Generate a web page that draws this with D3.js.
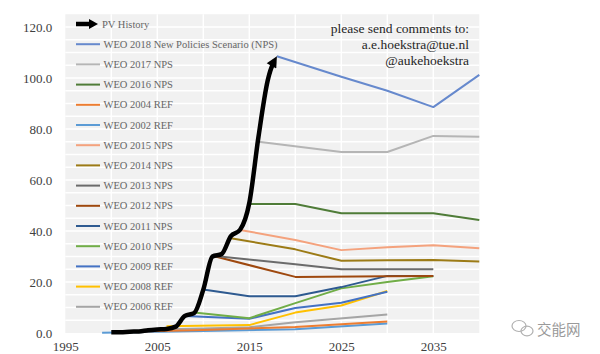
<!DOCTYPE html>
<html>
<head>
<meta charset="utf-8">
<script src="https://cdn.jsdelivr.net/npm/d3@7/dist/d3.min.js"></script>
<style>
  html, body { margin: 0; padding: 0; background: #fff; }
  svg { display: block; }
</style>
</head>
<body>
<svg id="chart" width="600" height="354"></svg>
<script>
// ---------------- DATA ----------------
const pvYears  = [2000,2001,2002,2003,2004,2005,2006,2007,2008,2009,2010,2011,2012,2013,2014,2015,2016,2017,2018];
const pvValues = [0.3,0.3,0.5,0.6,1.1,1.4,1.6,2.5,6.7,7.8,17,30,31,38,40.5,51,77,99,108.5];

const seriesNames = [
  "WEO 2018 New Policies Scenario (NPS)", "WEO 2017 NPS", "WEO 2016 NPS", "WEO 2004 REF",
  "WEO 2002 REF", "WEO 2015 NPS", "WEO 2014 NPS", "WEO 2013 NPS", "WEO 2012 NPS",
  "WEO 2011 NPS", "WEO 2010 NPS", "WEO 2009 REF", "WEO 2008 REF", "WEO 2006 REF"
];
const seriesYears = [
  [2018, 2025, 2030, 2035, 2040],            // 2018 NPS
  [2016, 2025, 2030, 2035, 2040],            // 2017 NPS
  [2015, 2020, 2025, 2030, 2035, 2040],      // 2016 NPS
  [2002, 2010, 2020, 2030],                  // 2004 REF
  [1999, 2010, 2020, 2030],                  // 2002 REF
  [2014, 2020, 2025, 2030, 2035, 2040],      // 2015 NPS
  [2013, 2020, 2025, 2030, 2035, 2040],      // 2014 NPS
  [2011, 2020, 2025, 2030, 2035],            // 2013 NPS
  [2011, 2020, 2030, 2035],                  // 2012 NPS
  [2010, 2015, 2020, 2025, 2030, 2035],      // 2011 NPS
  [2009, 2015, 2020, 2025, 2030, 2035],      // 2010 NPS
  [2008, 2015, 2020, 2025, 2030],            // 2009 REF
  [2006, 2015, 2020, 2025, 2030],            // 2008 REF
  [2005, 2010, 2015, 2020, 2030]             // 2006 REF
];
const seriesValues = [
  [108.5, 100.5, 95, 88.6, 101.2],
  [75, 71, 71, 77.3, 77],
  [50.6, 50.6, 47, 47, 47, 44.3],
  [0.5, 1.2, 2.4, 4.5],
  [0.1, 0.8, 1.5, 3.7],
  [40.4, 36.5, 32.5, 33.6, 34.4, 33.2],
  [37.2, 32.8, 28.3, 28.5, 28.6, 28],
  [30.3, 27, 25, 25, 25],
  [30.3, 22, 22.3, 22.4],
  [17.1, 14.4, 14.4, 18, 22.4, 22.4],
  [8, 5.8, 11.7, 17.5, 20, 22.3],
  [6.7, 5.6, 9.8, 11.9, 16.2],
  [2.6, 3.1, 8, 10.8, 16.5],
  [1.4, 1.8, 2.3, 4.2, 7.3]
];
const seriesColors = [
  "#6689cd", "#b5b5b5", "#4f7c38", "#ed7d31", "#5b9bd5", "#f4a27d", "#9c7b16",
  "#6b6b6b", "#9e480e", "#2e5a90", "#70ad47", "#4472c4", "#ffc000", "#a5a5a5"
];

const yTicks = [0, 20, 40, 60, 80, 100, 120];
const xTicks = [1995, 2005, 2015, 2025, 2035];
const noteLines = ["please send comments to:", "a.e.hoekstra@tue.nl", "@aukehoekstra"];
const pvLabel = "PV History";
const watermark = "交能网";

// ---------------- CHART ----------------
const svg = d3.select("#chart");
const serif = "'Liberation Serif', 'Times New Roman', serif";

const x = d3.scaleLinear().domain([1995, 2040]).range([65.3, 479.3]);
const y = d3.scaleLinear().domain([0, 125]).range([333, 14.25]);

// background
svg.append("rect")
  .attr("x", x(1995)).attr("y", y(125))
  .attr("width", x(2040) - x(1995)).attr("height", y(0) - y(125))
  .attr("fill", "#f1f1f1");

// grid
const grid = svg.append("g").attr("stroke", "#ffffff").attr("stroke-width", 1.4);
grid.selectAll("line.h").data(d3.range(5, 125, 5)).join("line")
  .attr("x1", x(1995)).attr("x2", x(2040))
  .attr("y1", d => y(d)).attr("y2", d => y(d));
grid.selectAll("line.v").data(d3.range(2000, 2040, 5)).join("line")
  .attr("y1", y(0)).attr("y2", y(125))
  .attr("x1", d => x(d)).attr("x2", d => x(d));

// axes
const yAxis = svg.append("g").attr("transform", `translate(${x(1995)},0)`)
  .call(d3.axisLeft(y).tickValues(yTicks).tickFormat(d3.format(".1f")).tickSize(0).tickPadding(13));
const xAxis = svg.append("g").attr("transform", `translate(0,${y(0)})`)
  .call(d3.axisBottom(x).tickValues(xTicks).tickFormat(d3.format("d")).tickSize(0).tickPadding(9));
[yAxis, xAxis].forEach(a => {
  a.select(".domain").remove();
  a.selectAll("text").attr("font-family", serif).attr("font-size", 13).attr("fill", "#404040");
});

// series lines (draw oldest first)
const line = d3.line().x(d => x(d[0])).y(d => y(d[1]));
const order = d3.range(seriesNames.length).reverse();
svg.append("g").selectAll("path").data(order).join("path")
  .attr("d", i => line(seriesYears[i].map((yr, k) => [yr, seriesValues[i][k]])))
  .attr("fill", "none")
  .attr("stroke", i => seriesColors[i])
  .attr("stroke-width", 2)
  .attr("stroke-linejoin", "round");

// arrow marker
const defs = svg.append("defs");
defs.append("marker")
  .attr("id", "arrow")
  .attr("viewBox", "0 0 10 10")
  .attr("refX", 10).attr("refY", 5)
  .attr("markerUnits", "userSpaceOnUse")
  .attr("markerWidth", 12).attr("markerHeight", 11)
  .attr("orient", "auto")
  .append("path").attr("d", "M0,0 L10,5 L0,10 Z").attr("fill", "#000");

// PV history
const pvLine = d3.line().x(d => x(d[0])).y(d => y(d[1])).curve(d3.curveMonotoneX);
const pvPath = svg.append("path")
  .attr("d", pvLine(pvYears.map((yr, k) => [yr, pvValues[k]])))
  .attr("fill", "none")
  .attr("stroke", "#000")
  .attr("stroke-width", 4.5)
  .attr("stroke-linejoin", "round")
  .attr("marker-end", "url(#arrow)");
const L = pvPath.node().getTotalLength();
pvPath.attr("stroke-dasharray", `${L - 7},${L + 10}`);

// legend
const legend = svg.append("g");
const ly = i => 24 + i * 20.2;
legend.append("line")
  .attr("x1", 76).attr("x2", 91).attr("y1", ly(0)).attr("y2", ly(0))
  .attr("stroke", "#000").attr("stroke-width", 4.5);
legend.append("path")
  .attr("d", `M89,${ly(0) - 5} L98,${ly(0)} L89,${ly(0) + 5} Z`)
  .attr("fill", "#000");
legend.append("text")
  .attr("x", 102).attr("y", ly(0)).attr("dy", "0.35em")
  .attr("font-family", serif).attr("font-size", 10.5).attr("fill", "#666")
  .text(pvLabel);
const items = legend.selectAll("g.item").data(seriesNames).join("g")
  .attr("transform", (d, i) => `translate(0,${ly(i + 1)})`);
items.append("line")
  .attr("x1", 76).attr("x2", 100).attr("y1", 0).attr("y2", 0)
  .attr("stroke", (d, i) => seriesColors[i]).attr("stroke-width", 2);
items.append("text")
  .attr("x", 103.5).attr("y", 0).attr("dy", "0.35em")
  .attr("font-family", serif).attr("font-size", 10.5).attr("fill", "#666")
  .text(d => d);

// note
svg.append("g").selectAll("text").data(noteLines).join("text")
  .attr("x", 469).attr("y", (d, i) => 32.5 + i * 16)
  .attr("text-anchor", "end")
  .attr("font-family", serif).attr("font-size", 13.5).attr("fill", "#262626")
  .text(d => d);

// watermark
const wm = svg.append("g").attr("fill", "none").attr("stroke", "#b0b0b0").attr("stroke-width", 1.2);
wm.append("ellipse").attr("cx", 519).attr("cy", 326).attr("rx", 7).attr("ry", 5.5);
wm.append("ellipse").attr("cx", 527).attr("cy", 331).attr("rx", 6).attr("ry", 4.8);
svg.append("text")
  .attr("x", 537).attr("y", 330).attr("dy", "0.35em")
  .attr("font-family", "'Noto Sans CJK SC', sans-serif").attr("font-size", 14.5).attr("fill", "#9a9a9a")
  .text(watermark);
</script>
</body>
</html>
